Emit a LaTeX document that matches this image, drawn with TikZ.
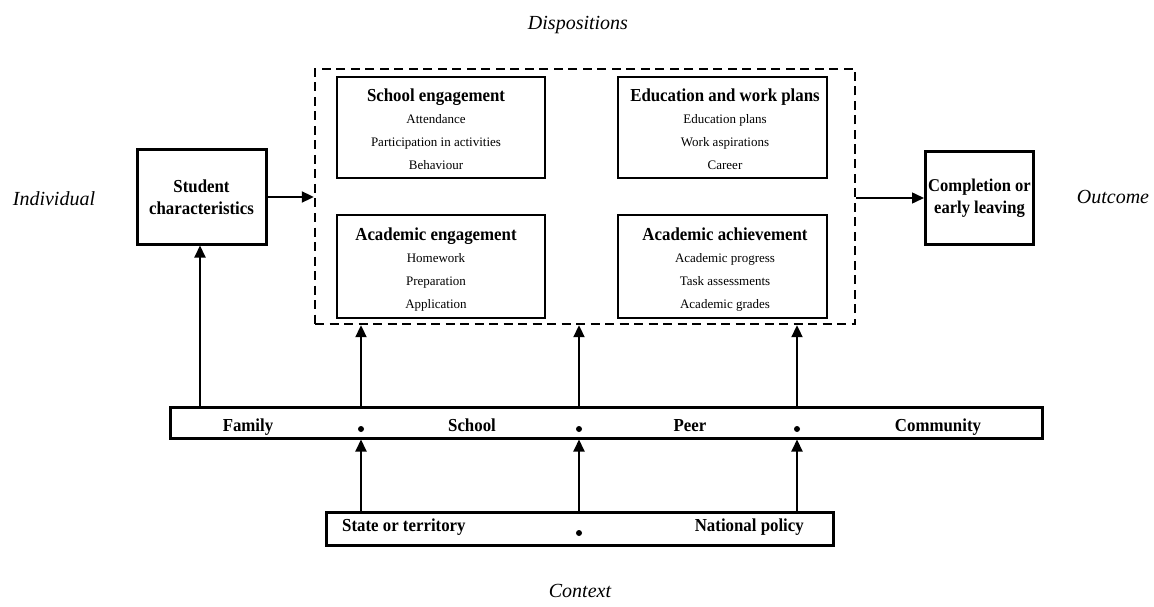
\documentclass[tikz,border=0pt]{standalone}
\usepackage{fontspec}
\setmainfont{Liberation Serif}
\newfontfamily\condserif[FakeStretch=0.92]{Liberation Serif}
\usetikzlibrary{arrows.meta}
\begin{document}
\begin{tikzpicture}[x=1pt,y=-1pt,
  thickbox/.style={draw,line width=3pt,inner sep=0pt},
  innerbox/.style={draw,line width=2pt,inner sep=0pt},
  dashbox/.style={draw,line width=2.4pt,dash pattern=on 9pt off 5.5pt,inner sep=0pt},
  ttlfont/.style={font=\condserif\fontsize{18.3}{22}\selectfont\bfseries},
  ttl/.style={ttlfont,anchor=base,inner sep=0pt},
  itm/.style={font=\fontsize{13}{16}\selectfont,anchor=base,inner sep=0pt},
  lbl/.style={font=\fontsize{20}{24}\selectfont\itshape,anchor=base,inner sep=0pt},
  arr/.style={line width=2pt,-{Triangle[length=12pt,width=11pt]}},
  thinarr/.style={line width=1.5pt,-{Triangle[length=12pt,width=11pt]}},
  dot/.style={circle,fill,inner sep=0pt,minimum size=6pt},
]
\useasboundingbox (0,0) rectangle (1154,607);

% outer labels
\node[lbl] (lind) at (54,205) {Individual};
\node[lbl] (lout) at (1113,204) {Outcome};
\node[lbl] (ldis) at (578,30) {Dispositions};
\node[lbl] (lctx) at (580,597) {Context};

% dispositions frame
\node[dashbox,minimum width=540pt,minimum height=255pt] (disp) at (585,196.5) {};

% inner boxes
\node[innerbox,minimum width=208pt,minimum height=101pt] (se) at (441,127.5) {};
\node[innerbox,minimum width=209pt,minimum height=101pt] (ew) at (722.5,127.5) {};
\node[innerbox,minimum width=208pt,minimum height=103pt] (ae) at (441,266.5) {};
\node[innerbox,minimum width=209pt,minimum height=103pt] (aa) at (722.5,266.5) {};

\node[ttl] (se-t) at (436,102) {School engagement};
\node[itm] (se-1) at (436,123.5) {Attendance};
\node[itm] (se-2) at (436,146.5) {Participation in activities};
\node[itm] (se-3) at (436,169.5) {Behaviour};

\node[ttl] (ew-t) at (725,102) {Education and work plans};
\node[itm] (ew-1) at (725,123.5) {Education plans};
\node[itm] (ew-2) at (725,146.5) {Work aspirations};
\node[itm] (ew-3) at (725,169.5) {Career};

\node[ttl] (ae-t) at (436,240.5) {Academic engagement};
\node[itm] (ae-1) at (436,262) {Homework};
\node[itm] (ae-2) at (436,285) {Preparation};
\node[itm] (ae-3) at (436,308) {Application};

\node[ttl] (aa-t) at (725,240.5) {Academic achievement};
\node[itm] (aa-1) at (725,262) {Academic progress};
\node[itm] (aa-2) at (725,285) {Task assessments};
\node[itm] (aa-3) at (725,308) {Academic grades};

% student characteristics and outcome
\node[thickbox,ttlfont,align=center,minimum width=129pt,minimum height=94pt] (sc) at (201.5,197) {Student\\characteristics};
\node[thickbox,font=\condserif\fontsize{18}{22}\selectfont\bfseries,align=center,minimum width=108pt,minimum height=92pt] (co) at (979.5,198) {Completion or\\early leaving};

% context bars
\node[thickbox,minimum width=872pt,minimum height=31pt] (ctx) at (606,422.5) {};
\node[thickbox,minimum width=507pt,minimum height=33pt] (pol) at (579.5,528.5) {};

\node[ttl] (t-fam) at (248,431) {Family};
\node[ttl] (t-sch) at (472,431) {School};
\node[ttl] (t-peer) at (690,431) {Peer};
\node[ttl] (t-com) at (938,431) {Community};
\node[ttl,anchor=base west] (t-st) at (342,531) {State or territory};
\node[ttl,anchor=base east] (t-nat) at (804,531) {National policy};

\node[dot] (d1) at (361,429) {};
\node[dot] (d2) at (579,429) {};
\node[dot] (d3) at (797,429) {};
\node[dot] (d4) at (579,533) {};

% arrow columns
\coordinate (c0) at (200,0);
\coordinate (c1) at (361,0);
\coordinate (c2) at (579,0);
\coordinate (c3) at (797,0);

\draw[arr] (sc.east) -- (sc.east -| disp.west);
\draw[thinarr] (disp.east |- co.west) -- (co.west);

\draw[arr] (ctx.north -| c0) -- (sc.south -| c0);
\draw[arr] (ctx.north -| c1) -- (disp.south -| c1);
\draw[arr] (ctx.north -| c2) -- (disp.south -| c2);
\draw[arr] (ctx.north -| c3) -- (disp.south -| c3);

\draw[arr] (pol.north -| c1) -- (ctx.south -| c1);
\draw[arr] (pol.north -| c2) -- (ctx.south -| c2);
\draw[arr] (pol.north -| c3) -- (ctx.south -| c3);
\end{tikzpicture}
\end{document}
